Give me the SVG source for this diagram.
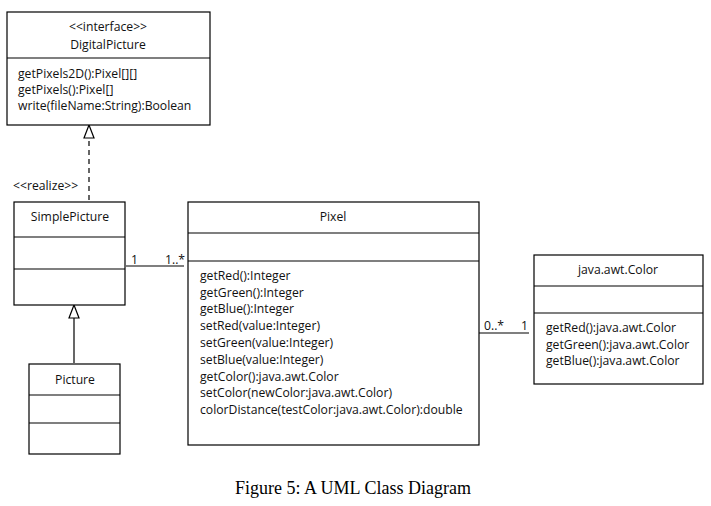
<svg xmlns="http://www.w3.org/2000/svg" width="711" height="506" viewBox="0 0 711 506">
<style>
.box{fill:#fff;stroke:#000;stroke-width:1.2}
.div{stroke:#000;stroke-width:1.2}
text{font-family:"Open Sans","Liberation Sans",sans-serif;font-size:12.2px;fill:#111}
.c{text-anchor:middle}
.cap{font-family:"Liberation Serif",serif;font-size:18px;fill:#000}
.ln{stroke:#000;stroke-width:1.2;fill:none}
</style>
<rect width="711" height="506" fill="#fff"/>
<g id="connectors">
<path class="ln" d="M89,200 V138" stroke-dasharray="5,4" stroke="#555"/>
<path d="M89,125 L94,138 L84,138 Z" fill="#fff" stroke="#000" stroke-width="1.2"/>
<path class="ln" d="M74,363 V318" stroke="#333"/>
<path d="M74,305 L79,318 L69,318 Z" fill="#fff" stroke="#000" stroke-width="1.2"/>
<path class="ln" d="M126,266 H184"/>
<path class="ln" d="M479,333 H529"/>
<text x="131" y="264">1</text>
<text x="165" y="264">1..*</text>
<text x="484" y="330">0..*</text>
<text x="521" y="330">1</text>
<text x="13" y="190">&lt;&lt;realize&gt;&gt;</text>
</g>
<g id="DigitalPicture">
<rect class="box" x="7" y="12" width="203" height="113"/>
<line class="div" x1="7" y1="58" x2="210" y2="58"/>
<text class="c" x="108" y="31">&lt;&lt;interface&gt;&gt;</text>
<text class="c" x="108" y="49">DigitalPicture</text>
<text x="18" y="78">getPixels2D():Pixel[][]</text>
<text x="18" y="94">getPixels():Pixel[]</text>
<text x="18" y="110">write(fileName:String):Boolean</text>
</g>
<g id="SimplePicture">
<rect class="box" x="14" y="202" width="111" height="103"/>
<line class="div" x1="14" y1="237" x2="125" y2="237"/>
<line class="div" x1="14" y1="269" x2="125" y2="269"/>
<text class="c" x="70" y="221">SimplePicture</text>
</g>
<g id="Picture">
<rect class="box" x="29" y="364" width="91" height="90"/>
<line class="div" x1="29" y1="395" x2="120" y2="395"/>
<line class="div" x1="29" y1="423" x2="120" y2="423"/>
<text class="c" x="75" y="384">Picture</text>
</g>
<g id="Pixel">
<rect class="box" x="188" y="202" width="291" height="243"/>
<line class="div" x1="188" y1="233" x2="479" y2="233"/>
<line class="div" x1="188" y1="261" x2="479" y2="261"/>
<text class="c" x="333" y="221">Pixel</text>
<text x="200" y="280">getRed():Integer</text>
<text x="200" y="297">getGreen():Integer</text>
<text x="200" y="313">getBlue():Integer</text>
<text x="200" y="330">setRed(value:Integer)</text>
<text x="200" y="347">setGreen(value:Integer)</text>
<text x="200" y="364">setBlue(value:Integer)</text>
<text x="200" y="381">getColor():java.awt.Color</text>
<text x="200" y="397">setColor(newColor:java.awt.Color)</text>
<text x="200" y="414">colorDistance(testColor:java.awt.Color):double</text>
</g>
<g id="Color">
<rect class="box" x="534" y="255" width="169" height="129"/>
<line class="div" x1="534" y1="286" x2="703" y2="286"/>
<line class="div" x1="534" y1="313" x2="703" y2="313"/>
<text class="c" x="618" y="274">java.awt.Color</text>
<text x="546" y="332">getRed():java.awt.Color</text>
<text x="546" y="349">getGreen():java.awt.Color</text>
<text x="546" y="365">getBlue():java.awt.Color</text>
</g>
<text class="cap c" x="353" y="494">Figure 5: A UML Class Diagram</text>
</svg>
